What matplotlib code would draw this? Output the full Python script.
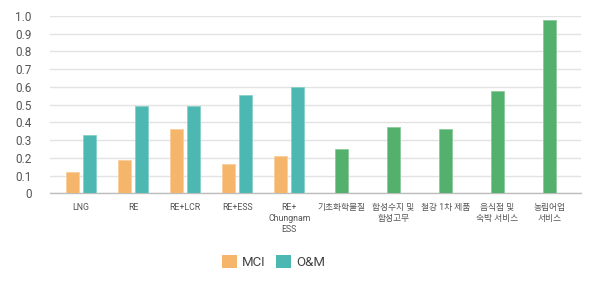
import numpy as np
import matplotlib.pyplot as plt
from matplotlib.patches import Patch

plt.rcParams['font.family'] = ['Roboto', 'Noto Sans CJK KR', 'DejaVu Sans']

# data
categories = ['LNG', 'RE', 'RE+LCR', 'RE+ESS', 'RE+\nChungnam\nESS',
              '기초화학물질', '합성수지 및\n합성고무', '철강 1차 제품',
              '음식점 및\n숙박 서비스', '농림어업\n서비스']
mci = [0.12, 0.19, 0.36, 0.165, 0.21]
om = [0.33, 0.49, 0.49, 0.556, 0.598]
industry = [0.25, 0.376, 0.361, 0.575, 0.976]

c_mci = '#F5B56A'
c_om = '#4DB8B1'
c_ind = '#54B06D'

fig = plt.figure(figsize=(6, 2.81), dpi=100)
ax = fig.add_axes([0.083, 0.312, 0.885, 0.631])

x = np.arange(len(categories))
w = 0.25
off = 0.165
ax.bar(x[:5] - off, mci, w, color=c_mci, edgecolor='#F9CF9A', linewidth=0.6, zorder=3)
ax.bar(x[:5] + off, om, w, color=c_om, edgecolor='#86D0CA', linewidth=0.6, zorder=3)
ax.bar(x[5:], industry, w, color=c_ind, edgecolor='#8CCB9C', linewidth=0.6, zorder=3)

ax.set_xlim(-0.6, 9.6)
ax.set_ylim(0, 1.0)
ax.set_yticks(np.arange(0, 1.01, 0.1))
ax.set_yticklabels(['0'] + [f'{v:.1f}' for v in np.arange(0.1, 1.01, 0.1)])
ax.yaxis.grid(True, color='#E3E3E3', linewidth=1.0, zorder=0)
ax.set_axisbelow(True)
for s in ['top', 'right', 'left']:
    ax.spines[s].set_visible(False)
ax.spines['bottom'].set_color('#BDBDBD')
ax.spines['bottom'].set_linewidth(1.0)

ax.set_xticks(x)
ax.set_xticklabels(categories, fontsize=6.3, color='#555555', linespacing=1.3, va='top')
ax.tick_params(axis='x', length=0, pad=7)
ax.tick_params(axis='y', length=0, pad=13, labelsize=8.5, labelcolor='#555555')

handles = [Patch(facecolor=c_mci, edgecolor='none'), Patch(facecolor=c_om, edgecolor='none')]
fig.legend(handles, ['MCI', 'O&M'], loc='center', bbox_to_anchor=(0.456, 0.068),
           ncol=2, frameon=False, fontsize=9.5, handlelength=1.1, handleheight=1.1,
           handletextpad=0.4, columnspacing=0.8, labelcolor='#444444')

fig.savefig('out.png', dpi=100)
